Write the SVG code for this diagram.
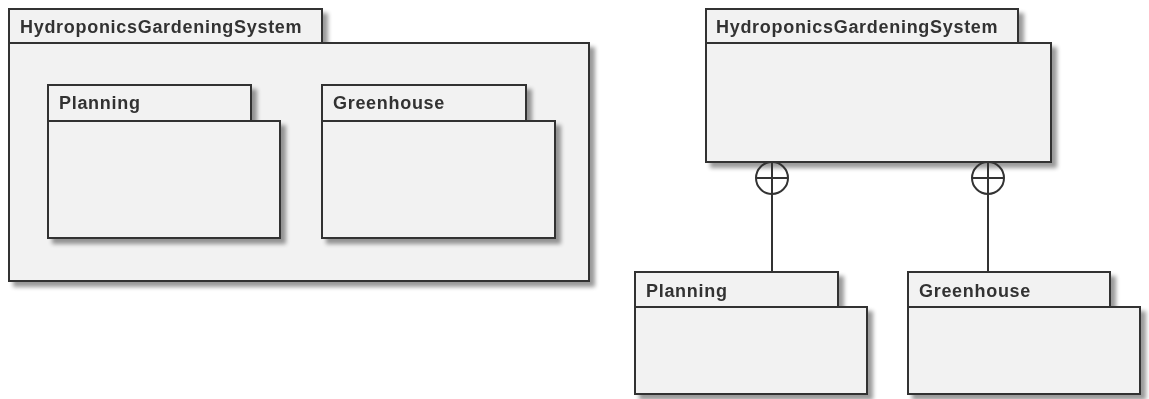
<svg xmlns="http://www.w3.org/2000/svg" width="1149" height="399" viewBox="0 0 1149 399">
  <defs>
    <filter id="shadow" x="-5%" y="-5%" width="115%" height="120%">
      <feGaussianBlur in="SourceAlpha" stdDeviation="2"/>
      <feOffset dx="5" dy="5" result="b"/>
      <feComponentTransfer><feFuncA type="linear" slope="0.4"/></feComponentTransfer>
      <feMerge><feMergeNode/><feMergeNode in="SourceGraphic"/></feMerge>
    </filter>
  </defs>
  <style>
    .pkg { fill: #f2f2f2; stroke: #333; stroke-width: 2; stroke-linejoin: miter; }
    .lbl { font-family: "Liberation Sans", Arial, sans-serif; font-weight: bold; font-size: 18px; letter-spacing: 0.7px; fill: #333; }
    .conn { fill: none; stroke: #333; stroke-width: 2; }
  </style>

  <!-- nested view -->
  <g id="hgs-outer" filter="url(#shadow)">
    <rect class="pkg" x="9" y="43" width="580" height="238"/>
    <rect class="pkg" x="9" y="9" width="313" height="34"/>
    <text class="lbl" x="20" y="33">HydroponicsGardeningSystem</text>
  </g>
  <g id="planning-inner" filter="url(#shadow)">
    <rect class="pkg" x="48" y="121" width="232" height="117"/>
    <rect class="pkg" x="48" y="85" width="203" height="36"/>
    <text class="lbl" x="59" y="109">Planning</text>
  </g>
  <g id="greenhouse-inner" filter="url(#shadow)">
    <rect class="pkg" x="322" y="121" width="233" height="117"/>
    <rect class="pkg" x="322" y="85" width="204" height="36"/>
    <text class="lbl" x="333" y="109">Greenhouse</text>
  </g>

  <!-- containment view -->
  <g id="hgs-top" filter="url(#shadow)">
    <rect class="pkg" x="706" y="43" width="345" height="119"/>
    <rect class="pkg" x="706" y="9" width="312" height="34"/>
    <text class="lbl" x="716" y="33">HydroponicsGardeningSystem</text>
  </g>
  <g id="planning" filter="url(#shadow)">
    <rect class="pkg" x="635" y="307" width="232" height="87"/>
    <rect class="pkg" x="635" y="272" width="203" height="35"/>
    <text class="lbl" x="646" y="297">Planning</text>
  </g>
  <g id="greenhouse" filter="url(#shadow)">
    <rect class="pkg" x="908" y="307" width="232" height="87"/>
    <rect class="pkg" x="908" y="272" width="202" height="35"/>
    <text class="lbl" x="919" y="297">Greenhouse</text>
  </g>

  <g id="connectors">
    <circle class="conn" cx="772" cy="178" r="16"/>
    <path class="conn" d="M772 162 V272 M756 178 H788"/>
    <circle class="conn" cx="988" cy="178" r="16"/>
    <path class="conn" d="M988 162 V272 M972 178 H1004"/>
  </g>
</svg>
